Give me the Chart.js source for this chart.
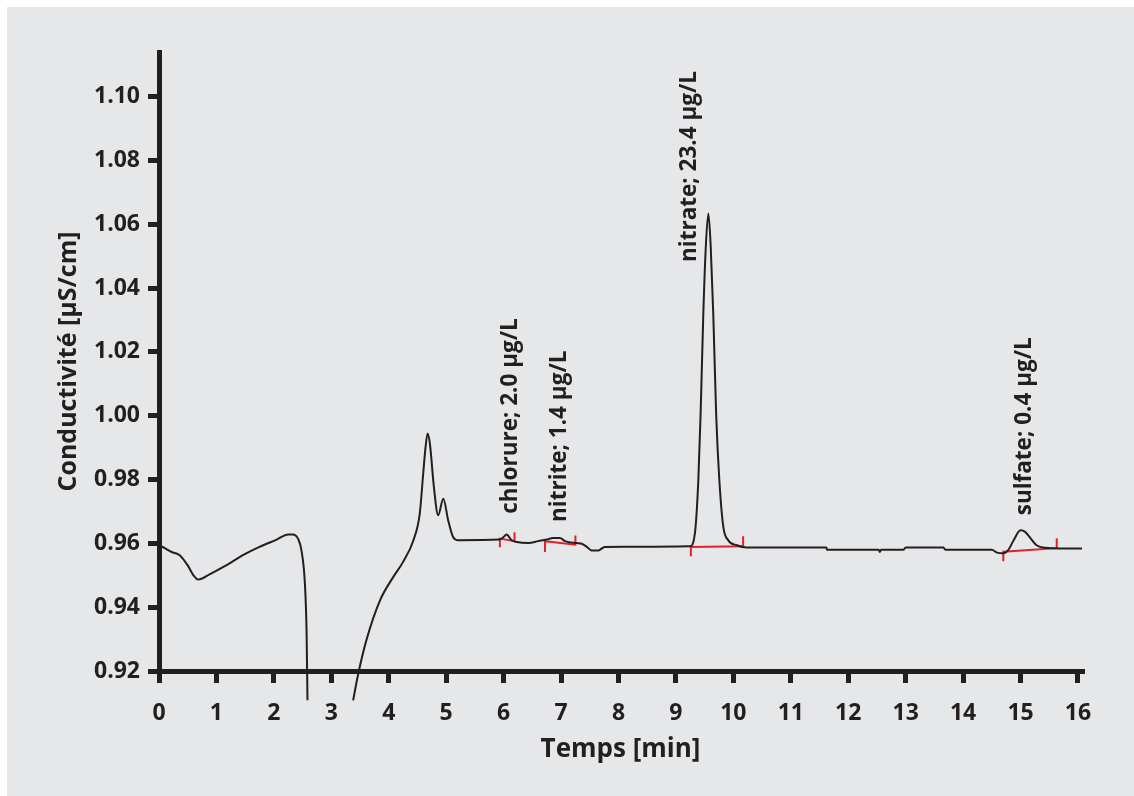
<!DOCTYPE html>
<html>
<head>
<meta charset="utf-8">
<script src="https://cdn.jsdelivr.net/npm/chart.js@4.4.1/dist/chart.umd.min.js"></script>
<style>
  html, body { margin: 0; padding: 0; background: #ffffff; }
  #wrap { position: absolute; left: 0; top: 0; width: 1134px; height: 796px; }
</style>
</head>
<body>
<div id="wrap"><canvas id="chart" width="1134" height="796"></canvas></div>
<script>
// chromatogram trace (null = trace leaves the plot)
var timeMin = [
    0.00, 0.10, 0.22, 0.36, 0.50, 0.60, 0.68, 0.75, 0.88, 1.17, 1.46, 1.75, 2.05, 2.25, 2.33, 2.42, 2.48, 2.54, 2.57, 2.585,
    3.00,
    3.38, 3.47, 3.61, 3.85, 4.08, 4.25, 4.43, 4.54, 4.60, 4.64, 4.676, 4.716, 4.786, 4.86, 4.95, 5.035, 5.12, 5.21,
    5.93, 6.00, 6.05, 6.14, 6.23, 6.43, 6.60, 6.75, 6.86, 6.98, 7.07, 7.27, 7.36, 7.45, 7.53, 7.65, 7.76,
    9.245, 9.33, 9.39, 9.43, 9.477, 9.52, 9.565, 9.606, 9.65, 9.70, 9.756, 9.826, 9.91, 10.06, 10.23,
    11.62, 11.63, 12.53, 12.55, 12.57, 12.96, 13.00, 13.66, 13.69, 14.50,
    14.59, 14.70, 14.79, 14.88, 15.00, 15.08, 15.20, 15.28, 15.43, 15.69, 16.07
];
var conductivity = [
    0.9594, 0.9585, 0.9573, 0.9563, 0.9531, 0.9500, 0.9487, 0.9490, 0.9503, 0.9531, 0.9563, 0.9589, 0.9612, 0.9628, 0.9628, 0.9615, 0.9578, 0.9474, 0.9317, 0.9108,
    null,
    0.9108, 0.9192, 0.9296, 0.9422, 0.9495, 0.9542, 0.9610, 0.9693, 0.9819, 0.9900, 0.9944, 0.9913, 0.9777, 0.9688, 0.9740, 0.9672, 0.9620, 0.9610,
    0.9612, 0.9620, 0.9628, 0.9610, 0.9604, 0.9601, 0.9607, 0.9612, 0.9617, 0.9617, 0.9607, 0.9601, 0.9599, 0.9589, 0.9578, 0.9578, 0.9589,
    0.9591, 0.9631, 0.9798, 1.0007, 1.0320, 1.0529, 1.0634, 1.0529, 1.0320, 1.0007, 0.9798, 0.9651, 0.9610, 0.9594, 0.9587,
    0.9587, 0.9580, 0.9580, 0.9573, 0.9580, 0.9580, 0.9587, 0.9587, 0.9580, 0.9580,
    0.9571, 0.9569, 0.9580, 0.9610, 0.9641, 0.9636, 0.9610, 0.9594, 0.9586, 0.9584, 0.9584
];

// peak integration marks (red)
var peakNames = ["chlorure; 2.0 µg/L", "nitrite; 1.4 µg/L", "nitrate; 23.4 µg/L", "sulfate; 0.4 µg/L"];
var intStart = [5.935, 6.72, 9.26, 14.70];
var intEnd = [6.19, 7.25, 10.17, 15.63];
var baseAtStart = [0.9615, 0.9607, 0.9589, 0.9574];
var baseAtEnd = [0.9607, 0.9596, 0.9591, 0.9585];
var startTickLow = [0.9588, 0.9573, 0.9560, 0.9544];
var endTickHigh = [0.9635, 0.9625, 0.9622, 0.9616];

// peak labels: anchor (minutes, µS/cm) of the start of the rotated text
var labelTime = [6.23, 7.09, 9.35, 15.19];
var labelValue = [0.9693, 0.9667, 1.0482, 0.9688];

var xTicks = [0, 1, 2, 3, 4, 5, 6, 7, 8, 9, 10, 11, 12, 13, 14, 15, 16];
var yTicks = [0.92, 0.94, 0.96, 0.98, 1.00, 1.02, 1.04, 1.06, 1.08, 1.10];

var ink = "#231f20";
var red = "#e3202a";
var fontFam = "'Open Sans', 'Noto Sans', sans-serif";

var trace = timeMin.map(function (t, i) {
    return { x: t, y: conductivity[i] };
});

var datasets = [
    {
        data: trace,
        borderColor: ink,
        borderWidth: 2,
        pointRadius: 0,
        cubicInterpolationMode: "monotone",
        spanGaps: false,
        clip: false,
    },
];
peakNames.forEach(function (name, i) {
    datasets.push({
        data: [
            { x: intStart[i], y: startTickLow[i] },
            { x: intStart[i], y: baseAtStart[i] },
            { x: intEnd[i], y: baseAtEnd[i] },
            { x: intEnd[i], y: endTickHigh[i] },
        ],
        borderColor: red,
        borderWidth: 2,
        pointRadius: 0,
        tension: 0,
        clip: false,
    });
});

var panelPlugin = {
    id: "panel",
    beforeDraw: function (chart) {
        var ctx = chart.ctx;
        ctx.save();
        ctx.fillStyle = "#ffffff";
        ctx.fillRect(0, 0, chart.width, chart.height);
        ctx.fillStyle = "#e6e7e8";
        ctx.fillRect(7, 7, chart.width - 7, chart.height - 7);
        ctx.restore();
    },
};

var peakLabelPlugin = {
    id: "peakLabels",
    afterDatasetsDraw: function (chart) {
        var ctx = chart.ctx;
        var xs = chart.scales.x, ys = chart.scales.y;
        ctx.save();
        ctx.fillStyle = ink;
        ctx.font = "bold 22.5px " + fontFam;
        ctx.textAlign = "left";
        ctx.textBaseline = "alphabetic";
        peakNames.forEach(function (name, i) {
            ctx.save();
            ctx.translate(xs.getPixelForValue(labelTime[i]), ys.getPixelForValue(labelValue[i]));
            ctx.rotate(-Math.PI / 2);
            ctx.fillText(name, 0, 0);
            ctx.restore();
        });
        ctx.restore();
    },
};

new Chart(document.getElementById("chart"), {
    type: "line",
    data: { datasets: datasets },
    options: {
        responsive: false,
        animation: false,
        events: [],
        layout: { padding: { left: 0, top: 52, right: 52, bottom: 0 } },
        plugins: { legend: { display: false }, tooltip: { enabled: false } },
        scales: {
            x: {
                type: "linear",
                min: 0,
                max: 16.07,
                afterBuildTicks: function (scale) {
                    scale.ticks = xTicks.map(function (v) { return { value: v }; });
                },
                afterFit: function (scale) { scale.height = 125; },
                border: { display: true, color: ink, width: 5 },
                grid: { drawOnChartArea: false, color: ink, lineWidth: 5, tickLength: 12, tickWidth: 5, tickColor: ink },
                ticks: {
                    color: ink,
                    padding: 17,
                    maxRotation: 0,
                    autoSkip: false,
                    font: { family: fontFam, size: 23, weight: "bold" },
                    callback: function (v) { return String(v); },
                },
                title: {
                    display: true,
                    text: "Temps [min]",
                    color: ink,
                    padding: 31,
                    font: { family: fontFam, size: 26, weight: "bold" },
                },
            },
            y: {
                min: 0.92,
                max: 1.114,
                afterBuildTicks: function (scale) {
                    scale.ticks = yTicks.map(function (v) { return { value: v }; });
                },
                afterFit: function (scale) { scale.width = 159; },
                border: { display: true, color: ink, width: 5 },
                grid: { drawOnChartArea: false, color: ink, lineWidth: 5, tickLength: 11, tickWidth: 5, tickColor: ink },
                ticks: {
                    color: ink,
                    padding: 8,
                    autoSkip: false,
                    font: { family: fontFam, size: 23, weight: "bold" },
                    callback: function (v) { return v.toFixed(2); },
                },
                title: {
                    display: true,
                    text: "Conductivité [µS/cm]",
                    color: ink,
                    padding: 54,
                    font: { family: fontFam, size: 25, weight: "bold" },
                },
            },
        },
    },
    plugins: [panelPlugin, peakLabelPlugin],
});
</script>
</body>
</html>
